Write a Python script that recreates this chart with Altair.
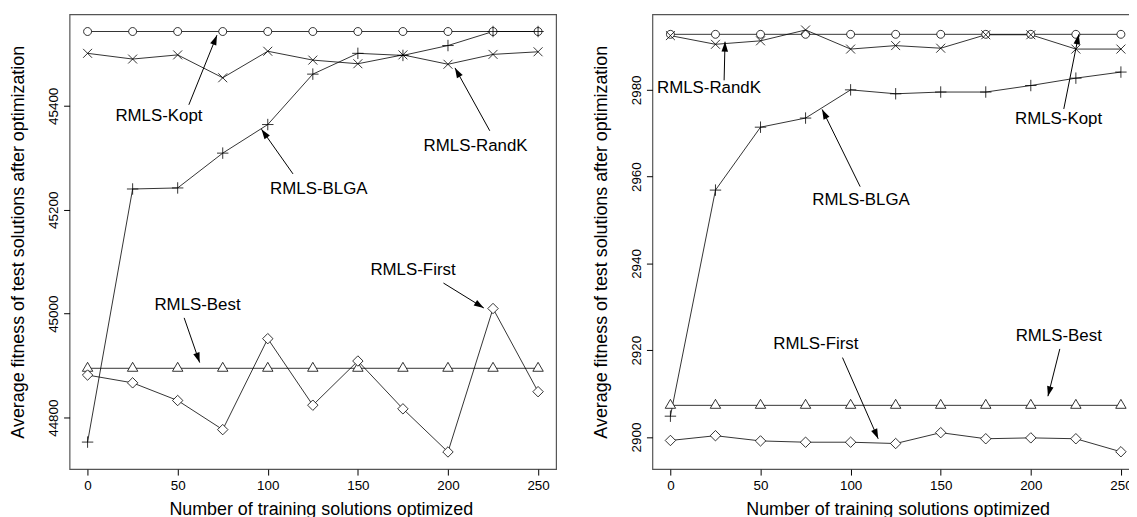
import math
import altair as alt
import pandas as pd

FONT = "Liberation Sans"

x_vals = [0, 25, 50, 75, 100, 125, 150, 175, 200, 225, 250]
series_names = ["RMLS-Kopt", "RMLS-Best", "RMLS-First", "RMLS-RandK", "RMLS-BLGA"]

# left panel values
kopt_left = [45543, 45543, 45543, 45543, 45543, 45543, 45543, 45543, 45543, 45543, 45543]
best_left = [44895, 44895, 44895, 44895, 44895, 44895, 44895, 44895, 44895, 44895, 44895]
first_left = [44882, 44867, 44833, 44777, 44952, 44824, 44909, 44817, 44734, 45010, 44850]
randk_left = [45501, 45490, 45498, 45454, 45505, 45488, 45481, 45498, 45480, 45499, 45504]
blga_left = [44753, 45240, 45242, 45309, 45364, 45461, 45501, 45497, 45516, 45543, 45543]

# right panel values
kopt_right = [2992.8, 2992.8, 2992.8, 2992.8, 2992.8, 2992.8, 2992.8, 2992.8, 2992.8, 2992.8, 2992.8]
best_right = [2907.3, 2907.3, 2907.3, 2907.3, 2907.3, 2907.3, 2907.3, 2907.3, 2907.3, 2907.3, 2907.3]
first_right = [2899.2, 2900.3, 2899.1, 2898.8, 2898.8, 2898.5, 2901.0, 2899.6, 2899.8, 2899.6, 2896.6]
randk_right = [2992.5, 2990.5, 2991.3, 2993.8, 2989.4, 2990.2, 2989.6, 2992.7, 2992.7, 2989.4, 2989.4]
blga_right = [2904.8, 2956.9, 2971.4, 2973.5, 2980.0, 2979.1, 2979.5, 2979.5, 2981.0, 2982.7, 2984.1]

x_ticks = [0, 50, 100, 150, 200, 250]
y_ticks_left = [44800, 45000, 45200, 45400]
y_ticks_right = [2900, 2920, 2940, 2960, 2980]

# annotation labels (label, x, y) and arrows (start x, start y, tip x, tip y), in data units
left_labels = ["RMLS-Kopt", "RMLS-BLGA", "RMLS-RandK", "RMLS-Best", "RMLS-First"]
left_label_x = [39.6, 128.3, 215.3, 61.0, 180.6]
left_label_y = [45381, 45240, 45322, 45017, 45084]
left_arrow_sx = [56.2, 114.0, 223.2, 53.6, 197.5]
left_arrow_sy = [45402, 45269, 45352, 44992, 45059]
left_arrow_tx = [71.8, 96.5, 203.9, 62.2, 219.9]
left_arrow_ty = [45536, 45355, 45473, 44906, 45011]

right_labels = ["RMLS-RandK", "RMLS-Kopt", "RMLS-BLGA", "RMLS-First", "RMLS-Best"]
right_label_x = [21.4, 215.4, 105.8, 80.7, 215.5]
right_label_y = [2980.4, 2973.2, 2954.5, 2921.5, 2923.3]
right_arrow_sx = [29.8, 218.3, 105.3, 95.5, 216.1]
right_arrow_sy = [2982.2, 2975.6, 2957.7, 2918.3, 2920.3]
right_arrow_tx = [30.3, 226.6, 84.2, 115.3, 209.5]
right_arrow_ty = [2991.1, 2992.8, 2975.5, 2899.6, 2909.4]

shape_paths = [
    "M0.8,0A0.8,0.8,0,1,1,-0.8,0A0.8,0.8,0,1,1,0.8,0Z",
    "M-1.05,0.6L1.05,0.6L0,-1.2Z",
    "M0,-1.05L1.05,0L0,1.05L-1.05,0Z",
    "M-0.9,-0.9L0.9,0.9M-0.9,0.9L0.9,-0.9",
    "M-1.15,0L1.15,0M0,-1.15L0,1.15",
]
ARROW_HEAD = "M0,0L0.33,1L-0.33,1Z"

PLOT_W = 490
PLOT_H = 458


def panel(series_vals, xdom, ydom, yticks, width, height,
          labels, lx, ly, sx, sy, tx, ty, x_title_x):
    rows = []
    for name, vals in zip(series_names, series_vals):
        for xv, yv in zip(x_vals, vals):
            rows.append({"x": xv, "y": yv, "series": name})
    df = pd.DataFrame(rows)

    kx = width / (xdom[1] - xdom[0])
    ky = height / (ydom[1] - ydom[0])
    arrows = []
    for a, b, c, d in zip(sx, sy, tx, ty):
        dxs = (c - a) * kx
        dys = -(d - b) * ky
        ang = math.degrees(math.atan2(dxs, -dys)) % 360
        arrows.append({"x": a, "y": b, "x2": c, "y2": d, "angle": ang})
    adf = pd.DataFrame(arrows)
    hdf = pd.DataFrame([{"x": r["x2"], "y": r["y2"], "angle": r["angle"]} for r in arrows])
    tdf = pd.DataFrame({"x": lx, "y": ly, "label": labels})

    xs = alt.Scale(domain=xdom, nice=False, zero=False)
    ys = alt.Scale(domain=ydom, nice=False, zero=False)
    xenc = alt.X("x:Q", scale=xs, axis=alt.Axis(values=x_ticks, format="d", titleX=x_title_x,
                                                title="Number of training solutions optimized"))
    yenc = alt.Y("y:Q", scale=ys, axis=alt.Axis(values=yticks, format="d",
                                                title="Average fitness of test solutions after optimization"))

    lines = alt.Chart(df).mark_line(color="black", strokeWidth=0.8).encode(
        x=xenc, y=yenc, detail="series:N")
    points = alt.Chart(df).mark_point(
        fill="white", fillOpacity=1, stroke="black", strokeWidth=0.8, opacity=1, size=100
    ).encode(
        x=xenc, y=yenc,
        shape=alt.Shape("series:N", scale=alt.Scale(domain=series_names, range=shape_paths), legend=None),
    )
    rules = alt.Chart(adf).mark_rule(color="black", strokeWidth=1).encode(
        x=xenc, y=yenc, x2="x2:Q", y2="y2:Q")
    heads = alt.Chart(hdf).mark_point(
        shape=ARROW_HEAD, filled=True, color="black", opacity=1, size=400, strokeWidth=0
    ).encode(x=xenc, y=yenc, angle=alt.Angle("angle:Q", scale=None))
    texts = alt.Chart(tdf).mark_text(
        font=FONT, fontSize=17, color="black", align="center", baseline="middle"
    ).encode(x=xenc, y=yenc, text="label:N")
    return alt.layer(lines, points, rules, heads, texts).properties(width=width, height=height)


left = panel([kopt_left, best_left, first_left, randk_left, blga_left],
             [-10, 260], [44701, 45576], y_ticks_left, PLOT_W, PLOT_H,
             left_labels, left_label_x, left_label_y,
             left_arrow_sx, left_arrow_sy, left_arrow_tx, left_arrow_ty, 253)
right = panel([kopt_right, best_right, first_right, randk_right, blga_right],
              [-10, 260], [2892.6, 2997.4], y_ticks_right, PLOT_W, PLOT_H,
              right_labels, right_label_x, right_label_y,
              right_arrow_sx, right_arrow_sy, right_arrow_tx, right_arrow_ty, 247)

SVG_W = 1129
SVG_H = 497
PAD_L = 62
PAD_T = 3

chart = alt.hconcat(left, right, spacing=35).properties(
    autosize=alt.AutoSizeParams(type="none"),
    padding={"left": PAD_L, "top": PAD_T, "right": SVG_W - PAD_L, "bottom": SVG_H - PAD_T},
).configure_view(
    stroke="#555", strokeWidth=1.2
).configure_axis(
    domain=False, grid=False, tickColor="black", tickSize=6, tickWidth=1,
    labelFont=FONT, labelFontSize=13.5, labelColor="black",
    titleFont=FONT, titleFontSize=18, titleFontWeight="normal", titleColor="black",
).configure_axisY(
    labelAngle=-90, labelPadding=3, titlePadding=19
).configure_axisX(
    labelPadding=4, titlePadding=8
)

chart.save("out.html", embed_options={"renderer": "svg", "actions": False})
